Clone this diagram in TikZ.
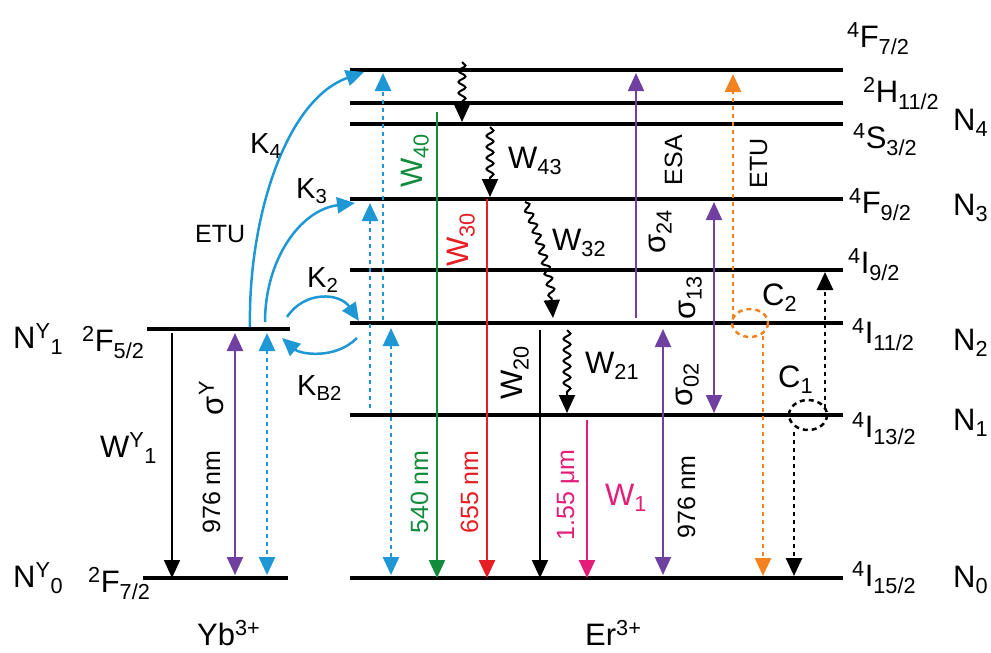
\documentclass[tikz,border=0pt]{standalone}
\usepackage{fontspec}
\setmainfont{Liberation Sans}
\usetikzlibrary{arrows.meta,decorations.pathmorphing}
\definecolor{etublue}{RGB}{30,152,212}
\definecolor{esapurple}{RGB}{112,64,160}
\definecolor{emgreen}{RGB}{18,140,60}
\definecolor{emred}{RGB}{228,30,36}
\definecolor{etuorange}{RGB}{243,130,32}
\definecolor{empink}{RGB}{228,30,120}
\begin{document}
\begin{tikzpicture}[x=1pt, y=-1pt,
    lev/.style={line width=3.4pt},
    lab/.style={inner sep=0pt, anchor=base west, font=\fontsize{31}{36}\selectfont},
    klab/.style={inner sep=0pt, anchor=base west, font=\fontsize{29}{34}\selectfont},
    rlab/.style={inner sep=0pt, anchor=base, rotate=90, font=\fontsize{31}{36}\selectfont},
    nm/.style={inner sep=0pt, anchor=base, rotate=90, font=\fontsize{25}{30}\selectfont},
    tip/.style={-{Triangle[length=18pt,width=16pt]}},
    both/.style={{Triangle[length=18pt,width=16pt]}-{Triangle[length=18pt,width=16pt]}},
    dotl/.style={line width=2.8pt, dash pattern=on 4pt off 4pt},
    wavy/.style={tip, line width=2pt, decorate,
      decoration={snake, amplitude=3.5pt, segment length=11pt, post length=17pt}}]
\useasboundingbox (0,0) rectangle (991,653);

% Yb levels
\draw[lev] (147,329) coordinate (ybup) -- (290,329);
\draw[lev] (143,578) coordinate (ybgr) -- (288,578);
% Er levels
\draw[lev] (350,70) coordinate (fvii) -- (843,70);
\draw[lev] (350,103) coordinate (hxi) -- (843,103);
\draw[lev] (350,124) coordinate (siii) -- (843,124);
\draw[lev] (350,199) coordinate (fix) -- (843,199);
\draw[lev] (350,270) coordinate (iix) -- (843,270);
\draw[lev] (350,323) coordinate (ixi) -- (843,323);
\draw[lev] (350,415) coordinate (ixiii) -- (843,415);
\draw[lev] (350,578) coordinate (ixv) -- (843,578);

\node[lab] (ny1) at (13,348) {N\textsuperscript{Y}\textsubscript{1}};
\node[lab] (lfv) at (82,351) {\textsuperscript{2}F\textsubscript{5/2}};
\node[lab] (ny0) at (13,587) {N\textsuperscript{Y}\textsubscript{0}};
\node[lab] (lfvii) at (88,592) {\textsuperscript{2}F\textsubscript{7/2}};
\node[lab] (yb) at (197,645) {Yb\textsuperscript{3+}};
\node[lab] (er) at (585,645) {Er\textsuperscript{3+}};

\node[lab] (lfvii4) at (847,47) {\textsuperscript{4}F\textsubscript{7/2}};
\node[lab] (lhxi) at (863,102) {\textsuperscript{2}H\textsubscript{11/2}};
\node[lab] (lsiii) at (853,148) {\textsuperscript{4}S\textsubscript{3/2}};
\node[lab] (lfix) at (849,213) {\textsuperscript{4}F\textsubscript{9/2}};
\node[lab] (liix) at (848,273) {\textsuperscript{4}I\textsubscript{9/2}};
\node[lab] (lixi) at (852,343) {\textsuperscript{4}I\textsubscript{11/2}};
\node[lab] (lixiii) at (852,437) {\textsuperscript{4}I\textsubscript{13/2}};
\node[lab] (lixv) at (852,586) {\textsuperscript{4}I\textsubscript{15/2}};
\node[lab] (n4) at (953,130) {N\textsubscript{4}};
\node[lab] (n3) at (953,215) {N\textsubscript{3}};
\node[lab] (n2) at (953,350) {N\textsubscript{2}};
\node[lab] (n1) at (953,430) {N\textsubscript{1}};
\node[lab] (n0) at (953,587) {N\textsubscript{0}};

% Yb transitions
\draw[tip, line width=1.6pt] (172,333) -- (172,0 |- ybgr);
\node[lab] (wy1) at (100,457) {W\textsuperscript{Y}\textsubscript{1}};
\draw[both, esapurple, line width=2.5pt] (235,333) -- (235,575);
\node[rlab] (sigy) at (223,398) {σ\textsuperscript{Y}};
\node[nm] (pump) at (220,492) {976 nm};
\draw[both, etublue, dotl] (267,333) -- (267,575);

% energy transfer
\draw[tip, etublue, line width=2.5pt] (250,327) .. controls (248,220) and (285,100) .. (364,72);
\draw[tip, etublue, line width=2.5pt] (265,322) .. controls (265,260) and (300,210) .. (355,203);
\draw[tip, etublue, line width=2.5pt] (287,317) .. controls (305,290) and (340,293) .. (359,321);
\draw[tip, etublue, line width=2.5pt] (357,338) .. controls (335,360) and (300,354) .. (282,338);
\node[klab] (k4) at (250,153) {K\textsubscript{4}};
\node[klab] (k3) at (296,198) {K\textsubscript{3}};
\node[klab] (k2) at (307,287) {K\textsubscript{2}};
\node[klab] (kb2) at (297,395) {K\textsubscript{B2}};
\node[inner sep=0pt, anchor=base west, font=\fontsize{25}{28}\selectfont] (etul) at (195,242) {ETU};
\draw[tip, etublue, dotl] (383,320) -- (383,73);
\draw[tip, etublue, dotl] (370,408) -- (370,203);
\draw[both, etublue, dotl] (391,328) -- (391,575);

% Er transitions
\draw[tip, emgreen, line width=2.2pt] (437,112) -- (437,0 |- ixv);
\node[rlab, emgreen] (w40) at (422,161) {W\textsubscript{40}};
\node[nm, emgreen] (gr) at (428,492) {540 nm};
\draw[tip, emred, line width=2.5pt] (487,199) -- (487,0 |- ixv);
\node[rlab, emred] (w30) at (468,240) {W\textsubscript{30}};
\node[nm, emred] (rd) at (478,492) {655 nm};
\draw[tip, line width=2pt] (540,330) -- (540,0 |- ixv);
\node[rlab] (w20) at (522,373) {W\textsubscript{20}};
\draw[tip, empink, line width=2.5pt] (587,420) -- (587,0 |- ixv);
\node[nm, empink] (ir) at (574,495) {1.55 μm};
\node[lab, empink] (w1) at (605,505) {W\textsubscript{1}};

\draw[wavy] (462,62) -- (462,122);
\draw[wavy] (490,127) -- (490,197);
\node[lab] (w43) at (508,168) {W\textsubscript{43}};
\draw[wavy] (525,202) .. controls (540,240) and (552,280) .. (553,318);
\node[lab] (w32) at (552,250) {W\textsubscript{32}};
\draw[wavy] (567,330) -- (567,413);
\node[lab] (w21) at (585,373) {W\textsubscript{21}};

\draw[both, esapurple, line width=2pt] (663,329) -- (663,575);
\node[rlab] (s02) at (692,385) {σ\textsubscript{02}};
\node[nm] (pump2) at (695,497) {976 nm};
\draw[tip, esapurple, line width=2pt] (636,318) -- (636,73);
\node[rlab] (s24) at (665,232) {σ\textsubscript{24}};
\node[nm] (esa) at (682,160) {ESA};
\draw[both, esapurple, line width=2pt] (714,202) -- (714,413);
\node[rlab] (s13) at (695,298) {σ\textsubscript{13}};

% cross relaxation
\draw[etuorange, line width=2.5pt, dash pattern=on 5pt off 4pt] (750,323) ellipse [x radius=18, y radius=14];
\node[lab] (c2) at (762,305) {C\textsubscript{2}};
\draw[tip, etuorange, dotl] (733,318) -- (733,74);
\node[nm] (etur) at (767,163) {ETU};
\draw[tip, etuorange, dotl] (763,336) -- (763,576);
\draw[line width=2.5pt, dash pattern=on 5pt off 4pt] (808,415) ellipse [x radius=19, y radius=15];
\node[lab] (c1) at (778,387) {C\textsubscript{1}};
\draw[tip, dotl] (825,408) -- (825,272);
\draw[tip, dotl] (794,432) -- (794,576);
\end{tikzpicture}
\end{document}
